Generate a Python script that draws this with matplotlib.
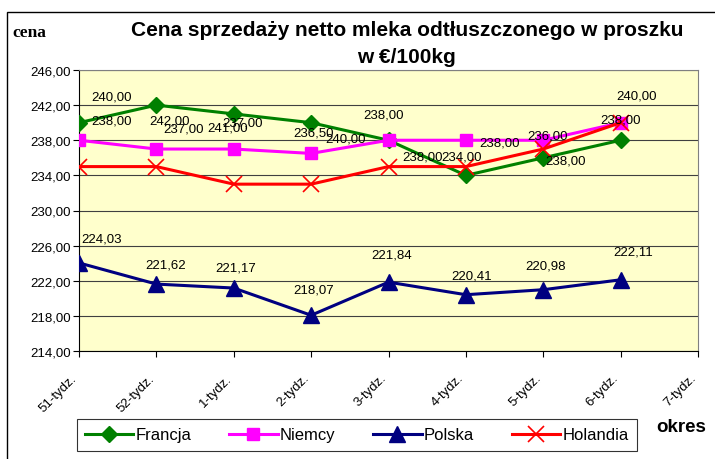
import matplotlib
matplotlib.use("Agg")
import matplotlib.pyplot as plt
from matplotlib.patches import Rectangle
from matplotlib.transforms import ScaledTranslation

categories = ["51-tydz.", "52-tydz.", "1-tydz.", "2-tydz.", "3-tydz.", "4-tydz.", "5-tydz.", "6-tydz.", "7-tydz."]
francja = [240.00, 242.00, 241.00, 240.00, 238.00, 234.00, 236.00, 238.00]
niemcy = [238.00, 237.00, 237.00, 236.50, 238.00, 238.00, 238.00, 240.00]
polska = [224.03, 221.62, 221.17, 218.07, 221.84, 220.41, 220.98, 222.11]
holandia = [235.00, 235.00, 233.00, 233.00, 235.00, 235.00, 237.00, 240.00]
yticks = [214, 218, 222, 226, 230, 234, 238, 242, 246]

# label offsets in pixels (dx, dy up-positive)
off_francja = [(33, 26), (13, -15), (-6, -14), (34, -16), (34, -16), (-4, 19), (4, 22), (0, 21)]
off_niemcy = [(33, 20), (27, 21), (9, 27), (2, 21), (-5, 26), (34, -2), (22, -20), (16, 27)]
off_polska = [(23, 24), (9, 20), (2, 21), (2, 26), (3, 28), (6, 19), (2, 24), (13, 28)]

plt.rcParams['font.family'] = ['Liberation Sans', 'DejaVu Sans']

fig = plt.figure(figsize=(7.15, 4.6), dpi=100)
ax = fig.add_axes([79/715, 1-352/460, 619/715, 281/460])
ax.set_facecolor('#FFFFCC')

x = list(range(len(francja)))
ax.plot(x, francja, color='#008000', lw=2.2, marker='D', ms=8.5, label='Francja', zorder=3)
ax.plot(x, niemcy, color='#FF00FF', lw=2.2, marker='s', ms=9, label='Niemcy', zorder=3)
ax.plot(x, polska, color='#000080', lw=2.2, marker='^', ms=11, label='Polska', zorder=3)
ax.plot(x, holandia, color='#FF0000', lw=2.2, marker='x', ms=11, mew=1.2, label='Holandia', zorder=3)

def fmt(v):
    return f"{v:.2f}".replace('.', ',')

for series, offs in ((francja, off_francja), (niemcy, off_niemcy), (polska, off_polska)):
    for i, (v, (dx, dy)) in enumerate(zip(series, offs)):
        ax.annotate(fmt(v), (i, v), xytext=(dx, dy), textcoords='offset pixels',
                    ha='center', va='center', fontsize=9.5, zorder=4)

ax.set_xlim(0, len(categories) - 1)
ax.set_ylim(214, 246)
ax.set_yticks(yticks)
ax.set_yticklabels([fmt(v) for v in yticks], fontsize=9.5)
ax.set_xticks(range(len(categories)))
ax.set_xticklabels(categories, rotation=45, ha='right', va='center', rotation_mode='anchor', fontsize=9.5)
ax.tick_params(axis='x', length=4, pad=14)
ax.tick_params(axis='y', length=4, pad=2)
shift = ScaledTranslation(-4/100, 0, fig.dpi_scale_trans)
for lbl in ax.get_xticklabels():
    lbl.set_transform(lbl.get_transform() + shift)
ax.grid(axis='y', color='#404040', lw=0.8)
ax.set_axisbelow(True)
for s in ('top', 'right'):
    ax.spines[s].set_color('#808080')
for s in ('left', 'bottom'):
    ax.spines[s].set_color('black')

fig.text(407/715, 1-30/460, "Cena sprzedaży netto mleka odtłuszczonego w proszku", ha='center', va='center',
         fontsize=15, fontweight='bold')
fig.text(406/715, 1-58/460, "w €/100kg", ha='center', va='center', fontsize=15, fontweight='bold')
fig.text(12/715, 1-33/460, "cena", ha='left', va='center', fontsize=12.5, fontweight='bold',
         family=['Liberation Serif', 'DejaVu Serif'])
fig.text(656/715, 1-428/460, "okres", ha='left', va='center', fontsize=13.5, fontweight='bold')

leg = fig.legend(loc='center', bbox_to_anchor=(357/715, 1-436/460), ncol=4, fontsize=12,
                 frameon=True, fancybox=False, edgecolor='black', handlelength=2.9,
                 columnspacing=2.25, handletextpad=0.15, borderpad=0.5, borderaxespad=0)
leg.get_frame().set_linewidth(0.8)

fig.patches.append(Rectangle((7/715, -0.1), 1.2, 1 - 13/460 + 0.1, transform=fig.transFigure,
                             fill=False, edgecolor='black', lw=1))

fig.savefig('out.png', dpi=100)
